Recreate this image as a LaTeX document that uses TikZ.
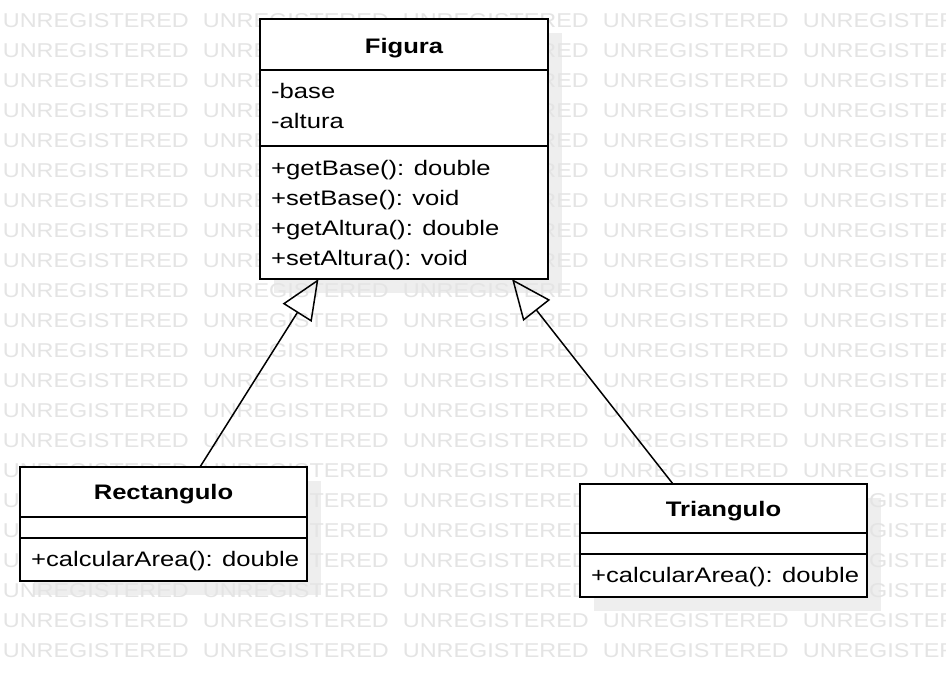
\documentclass[tikz,border=0pt]{standalone}
\usepackage{fontspec}
\setmainfont{Liberation Sans}[FakeStretch=1.22]
\newfontfamily\wmfont{Liberation Sans}[FakeStretch=1.17]
\usetikzlibrary{arrows.meta,backgrounds,calc}
\definecolor{wmgray}{RGB}{228,228,228}
\definecolor{shadowgray}{RGB}{238,238,238}
\tikzset{
  umlbox/.style={draw=black, line width=2pt, fill=white, inner sep=0pt, outer sep=0pt, anchor=north west},
  sepline/.style={draw=black, line width=2pt},
  member/.style={anchor=base west, inner sep=0pt, font=\fontsize{21}{21}\selectfont},
  title/.style={anchor=base, inner sep=0pt, font=\fontsize{21}{21}\selectfont\bfseries},
  wm/.style={anchor=base west, inner sep=0pt, text=wmgray, font=\wmfont\fontsize{20}{20}\selectfont},
  inh/.style={draw=black, line width=1.5pt, -{Triangle[open, length=40pt, width=34pt, line width=1.5pt]}},
  shadowbox/.style={fill=shadowgray}
}
\begin{document}
\begin{tikzpicture}[x=1pt, y=-1pt]
\useasboundingbox (0,0) rectangle (946,678);
% boxes
\node[umlbox, minimum width=288pt, minimum height=260pt] (figura) at (260,19) {};
\node[umlbox, minimum width=287pt, minimum height=114pt] (rect) at (20,467) {};
\node[umlbox, minimum width=287pt, minimum height=113pt] (tri) at (580,484) {};
% background: white, shadows, watermark
\begin{scope}[on background layer]
  \fill[white] (0,0) rectangle (946,678);
  \foreach \b in {figura,rect,tri}
    \fill[shadowbox] ($(\b.north west)+(14,14)$) rectangle ($(\b.south east)+(14,14)$);
  \foreach \r in {0,...,21}
    \foreach \c in {0,...,4}
      \node[wm] (wm-\r-\c) at ({2.7+200*\c},{27.3+30*\r}) {UNREGISTERED};
\end{scope}
% separators
\draw[sepline] ($(figura.north west)+(0,51)$) -- ($(figura.north east)+(0,51)$);
\draw[sepline] ($(figura.north west)+(0,127)$) -- ($(figura.north east)+(0,127)$);
\draw[sepline] ($(rect.north west)+(0,50)$) -- ($(rect.north east)+(0,50)$);
\draw[sepline] ($(rect.north west)+(0,71)$) -- ($(rect.north east)+(0,71)$);
\draw[sepline] ($(tri.north west)+(0,49)$) -- ($(tri.north east)+(0,49)$);
\draw[sepline] ($(tri.north west)+(0,70)$) -- ($(tri.north east)+(0,70)$);
% texts
\node[title] (figura-t) at (404,53) {Figura};
\node[member] (fa1) at (271,98) {-base};
\node[member] (fa2) at (271,128) {-altura};
\node[member] (fm1) at (271,175) {+getBase(): double};
\node[member] (fm2) at (271,205) {+setBase(): void};
\node[member] (fm3) at (271,235) {+getAltura(): double};
\node[member] (fm4) at (271,265) {+setAltura(): void};
\node[title] (rect-t) at (163.5,499) {Rectangulo};
\node[member] (rm1) at (31,566) {+calcularArea(): double};
\node[title] (tri-t) at (723.5,516) {Triangulo};
\node[member] (tm1) at (591,582) {+calcularArea(): double};
% connectors
\coordinate (rtop) at ($(rect.north west)+(180,0)$);
\coordinate (ttop) at ($(tri.north west)+(93,0)$);
\coordinate (fl) at ($(figura.south west)+(58.5,0)$);
\coordinate (fr) at ($(figura.south west)+(252,0)$);
\draw[inh] (rtop) -- (fl);
\draw[inh] (ttop) -- (fr);
\end{tikzpicture}
\end{document}
